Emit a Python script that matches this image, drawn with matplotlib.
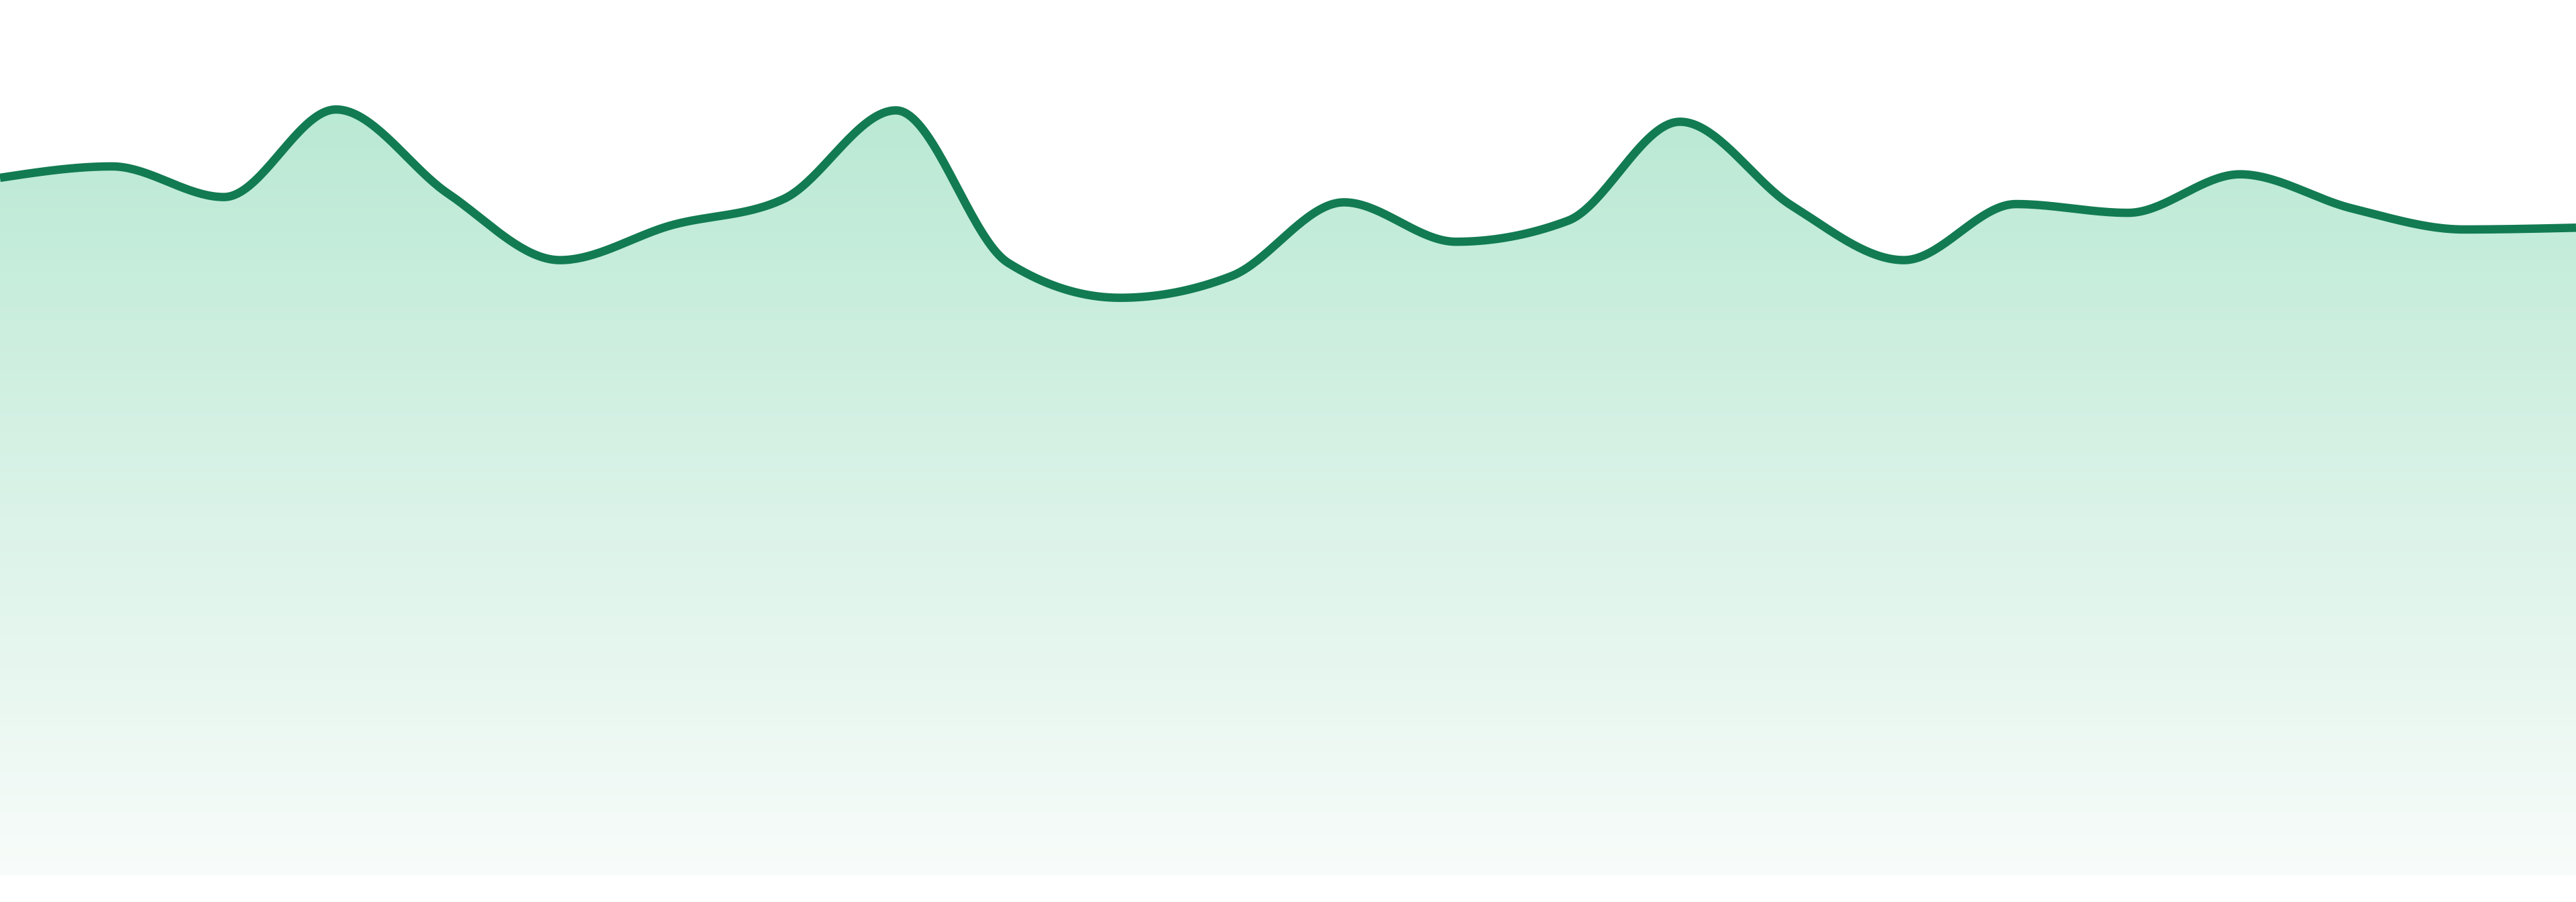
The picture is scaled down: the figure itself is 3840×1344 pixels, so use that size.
import numpy as np
import matplotlib
matplotlib.use('Agg')
import matplotlib.pyplot as plt
from matplotlib.colors import LinearSegmentedColormap

# 24 evenly spaced samples, no axes / labels in the original
x_idx = list(range(24))
values = [79.7, 81.0, 77.5, 87.5, 77.9, 70.3, 74.3, 77.3, 87.4, 70.0, 66.0, 68.5,
          76.9, 72.4, 74.8, 86.1, 76.5, 70.3, 76.7, 75.7, 80.1, 76.2, 73.8, 74.0]

line_color = '#127b52'
fill_top = '#bae9d4'
fill_bottom = '#f8fcfa'


def monotone_curve(x, y, n=40):
    # monotone cubic (Fritsch-Carlson style, like d3 curveMonotoneX)
    x = np.asarray(x, float)
    y = np.asarray(y, float)
    h = np.diff(x)
    s = np.diff(y) / h
    m = np.zeros_like(y)
    for i in range(1, len(y) - 1):
        if s[i - 1] * s[i] <= 0:
            m[i] = 0
        else:
            p = (s[i - 1] * h[i] + s[i] * h[i - 1]) / (h[i - 1] + h[i])
            m[i] = (np.sign(s[i - 1]) + np.sign(s[i])) * min(abs(s[i - 1]), abs(s[i]), 0.5 * abs(p))
    m[0] = (3 * s[0] - m[1]) / 2 if len(y) > 2 else s[0]
    m[-1] = (3 * s[-1] - m[-2]) / 2 if len(y) > 2 else s[-1]
    xs, ys = [], []
    for i in range(len(x) - 1):
        t = np.linspace(0, 1, n, endpoint=False)
        h00 = 2 * t**3 - 3 * t**2 + 1
        h10 = t**3 - 2 * t**2 + t
        h01 = -2 * t**3 + 3 * t**2
        h11 = t**3 - t**2
        xs.append(x[i] + t * h[i])
        ys.append(h00 * y[i] + h10 * h[i] * m[i] + h01 * y[i + 1] + h11 * h[i] * m[i + 1])
    xs.append([x[-1]])
    ys.append([y[-1]])
    return np.concatenate(xs), np.concatenate(ys)


xs, ys = monotone_curve(x_idx, values)

fig = plt.figure(figsize=(38.4, 13.44), dpi=100)
ax = fig.add_axes([0, 39 / 1344, 1, 1305 / 1344])
ax.set_xlim(x_idx[0], x_idx[-1])
ax.set_ylim(0, 100)
ax.axis('off')

# vertical gradient clipped to the area under the curve
cmap = LinearSegmentedColormap.from_list('g', [fill_bottom, fill_top])
top = max(values)
grad = np.linspace(0, 1, 256).reshape(-1, 1)
im = ax.imshow(grad, cmap=cmap, aspect='auto', origin='lower',
               extent=[x_idx[0], x_idx[-1], 0, top], zorder=1)
clip = plt.Polygon(np.column_stack([np.r_[xs, xs[-1], xs[0]], np.r_[ys, 0, 0]]),
                   transform=ax.transData, fc='none', ec='none')
ax.add_patch(clip)
im.set_clip_path(clip)

ax.plot(xs, ys, color=line_color, lw=9, solid_capstyle='butt', zorder=3)

fig.savefig('out.png', dpi=100, facecolor='white')
